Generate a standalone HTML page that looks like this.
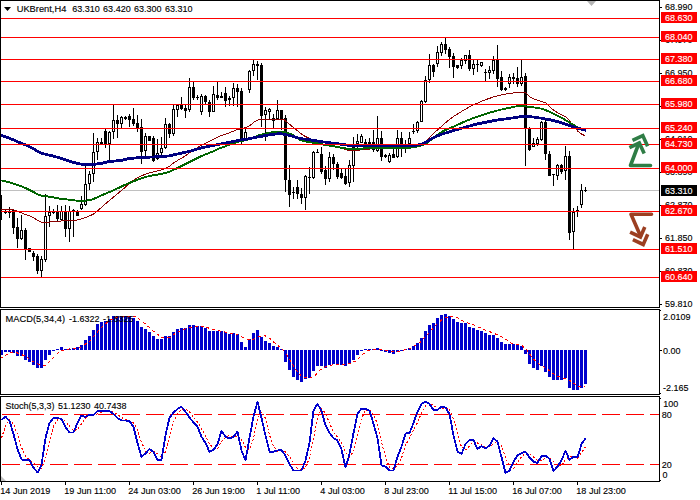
<!DOCTYPE html>
<html lang="en"><head><meta charset="utf-8"><title>UKBrent H4</title>
<style>html,body{margin:0;padding:0;background:#fff;}body{width:700px;height:500px;overflow:hidden;}svg{display:block;}text{font-family:"Liberation Sans", Arial, sans-serif;font-size:9px;fill:#000;stroke:#000;stroke-width:0.12px;}.w{fill:#fff;stroke:#fff;}</style></head><body>
<svg width="700" height="500" viewBox="0 0 700 500">
<rect x="0" y="0" width="700" height="500" fill="#fff"/>
<g shape-rendering="crispEdges">
<rect x="1" y="190" width="658" height="1" fill="#c0c0c0"/>
</g>
<g shape-rendering="crispEdges" fill="#000">
<rect x="1" y="195" width="1" height="25"/>
<rect x="0" y="195" width="2" height="25"/>
<rect x="5" y="210" width="1" height="4"/>
<rect x="4" y="211" width="3" height="2"/>
<rect x="9" y="207" width="1" height="11"/>
<rect x="8" y="211" width="3" height="2"/>
<rect x="13" y="209" width="1" height="25"/>
<rect x="12" y="210" width="3" height="18"/>
<rect x="17" y="218" width="1" height="30"/>
<rect x="16" y="227" width="3" height="12"/>
<rect x="21" y="215" width="1" height="25"/>
<rect x="20" y="230" width="3" height="9"/>
<rect x="21" y="231" width="1" height="7" fill="#fff"/>
<rect x="25" y="228" width="1" height="32"/>
<rect x="24" y="230" width="3" height="20"/>
<rect x="29" y="248" width="1" height="4"/>
<rect x="28" y="248" width="3" height="4"/>
<rect x="33" y="251" width="1" height="10"/>
<rect x="32" y="253" width="3" height="4"/>
<rect x="37" y="254" width="1" height="20"/>
<rect x="36" y="256" width="3" height="15"/>
<rect x="41" y="256" width="1" height="21"/>
<rect x="40" y="259" width="3" height="12"/>
<rect x="41" y="260" width="1" height="10" fill="#fff"/>
<rect x="45" y="194" width="1" height="68"/>
<rect x="44" y="216" width="3" height="44"/>
<rect x="45" y="217" width="1" height="42" fill="#fff"/>
<rect x="49" y="206" width="1" height="21"/>
<rect x="48" y="212" width="3" height="4"/>
<rect x="49" y="213" width="1" height="2" fill="#fff"/>
<rect x="53" y="209" width="1" height="5"/>
<rect x="52" y="211" width="3" height="2"/>
<rect x="57" y="205" width="1" height="17"/>
<rect x="56" y="211" width="3" height="8"/>
<rect x="61" y="206" width="1" height="14"/>
<rect x="60" y="211" width="3" height="9"/>
<rect x="61" y="212" width="1" height="7" fill="#fff"/>
<rect x="65" y="205" width="1" height="32"/>
<rect x="64" y="211" width="3" height="18"/>
<rect x="69" y="206" width="1" height="36"/>
<rect x="68" y="211" width="3" height="18"/>
<rect x="69" y="212" width="1" height="16" fill="#fff"/>
<rect x="73" y="209" width="1" height="28"/>
<rect x="72" y="210" width="3" height="1"/>
<rect x="77" y="210" width="1" height="6"/>
<rect x="76" y="212" width="3" height="4"/>
<rect x="81" y="196" width="1" height="14"/>
<rect x="80" y="204" width="3" height="5"/>
<rect x="81" y="205" width="1" height="3" fill="#fff"/>
<rect x="85" y="164" width="1" height="42"/>
<rect x="84" y="184" width="3" height="21"/>
<rect x="85" y="185" width="1" height="19" fill="#fff"/>
<rect x="89" y="171" width="1" height="19"/>
<rect x="88" y="174" width="3" height="10"/>
<rect x="89" y="175" width="1" height="8" fill="#fff"/>
<rect x="93" y="133" width="1" height="49"/>
<rect x="92" y="152" width="3" height="22"/>
<rect x="93" y="153" width="1" height="20" fill="#fff"/>
<rect x="97" y="138" width="1" height="22"/>
<rect x="96" y="142" width="3" height="10"/>
<rect x="97" y="143" width="1" height="8" fill="#fff"/>
<rect x="101" y="138" width="1" height="6"/>
<rect x="100" y="142" width="3" height="2"/>
<rect x="105" y="129" width="1" height="19"/>
<rect x="104" y="131" width="3" height="13"/>
<rect x="109" y="131" width="1" height="29"/>
<rect x="108" y="132" width="3" height="12"/>
<rect x="109" y="133" width="1" height="10" fill="#fff"/>
<rect x="113" y="105" width="1" height="34"/>
<rect x="112" y="120" width="3" height="12"/>
<rect x="113" y="121" width="1" height="10" fill="#fff"/>
<rect x="117" y="115" width="1" height="23"/>
<rect x="116" y="120" width="3" height="4"/>
<rect x="121" y="116" width="1" height="13"/>
<rect x="120" y="117" width="3" height="7"/>
<rect x="121" y="118" width="1" height="5" fill="#fff"/>
<rect x="125" y="116" width="1" height="4"/>
<rect x="124" y="117" width="3" height="2"/>
<rect x="129" y="114" width="1" height="13"/>
<rect x="128" y="116" width="3" height="4"/>
<rect x="133" y="108" width="1" height="18"/>
<rect x="132" y="119" width="3" height="5"/>
<rect x="137" y="115" width="1" height="17"/>
<rect x="136" y="123" width="3" height="5"/>
<rect x="141" y="119" width="1" height="45"/>
<rect x="140" y="127" width="3" height="25"/>
<rect x="145" y="133" width="1" height="23"/>
<rect x="144" y="136" width="3" height="15"/>
<rect x="145" y="137" width="1" height="13" fill="#fff"/>
<rect x="149" y="136" width="1" height="5"/>
<rect x="148" y="136" width="3" height="5"/>
<rect x="153" y="136" width="1" height="26"/>
<rect x="152" y="138" width="3" height="23"/>
<rect x="157" y="139" width="1" height="21"/>
<rect x="156" y="153" width="3" height="6"/>
<rect x="157" y="154" width="1" height="4" fill="#fff"/>
<rect x="161" y="137" width="1" height="18"/>
<rect x="160" y="148" width="3" height="5"/>
<rect x="161" y="149" width="1" height="3" fill="#fff"/>
<rect x="165" y="118" width="1" height="31"/>
<rect x="164" y="124" width="3" height="24"/>
<rect x="165" y="125" width="1" height="22" fill="#fff"/>
<rect x="169" y="123" width="1" height="15"/>
<rect x="168" y="124" width="3" height="10"/>
<rect x="173" y="105" width="1" height="31"/>
<rect x="172" y="109" width="3" height="25"/>
<rect x="173" y="110" width="1" height="23" fill="#fff"/>
<rect x="177" y="104" width="1" height="13"/>
<rect x="176" y="105" width="3" height="5"/>
<rect x="177" y="106" width="1" height="3" fill="#fff"/>
<rect x="181" y="97" width="1" height="13"/>
<rect x="180" y="105" width="3" height="4"/>
<rect x="185" y="105" width="1" height="13"/>
<rect x="184" y="108" width="3" height="3"/>
<rect x="189" y="78" width="1" height="34"/>
<rect x="188" y="87" width="3" height="23"/>
<rect x="189" y="88" width="1" height="21" fill="#fff"/>
<rect x="193" y="82" width="1" height="18"/>
<rect x="192" y="87" width="3" height="11"/>
<rect x="197" y="95" width="1" height="5"/>
<rect x="196" y="97" width="3" height="1"/>
<rect x="201" y="94" width="1" height="21"/>
<rect x="200" y="96" width="3" height="16"/>
<rect x="201" y="97" width="1" height="14" fill="#fff"/>
<rect x="205" y="95" width="1" height="9"/>
<rect x="204" y="96" width="3" height="6"/>
<rect x="209" y="100" width="1" height="17"/>
<rect x="208" y="102" width="3" height="10"/>
<rect x="213" y="86" width="1" height="26"/>
<rect x="212" y="94" width="3" height="18"/>
<rect x="213" y="95" width="1" height="16" fill="#fff"/>
<rect x="217" y="82" width="1" height="18"/>
<rect x="216" y="95" width="3" height="3"/>
<rect x="221" y="92" width="1" height="6"/>
<rect x="220" y="96" width="3" height="2"/>
<rect x="225" y="87" width="1" height="20"/>
<rect x="224" y="93" width="3" height="8"/>
<rect x="229" y="96" width="1" height="10"/>
<rect x="228" y="98" width="3" height="2"/>
<rect x="233" y="83" width="1" height="23"/>
<rect x="232" y="88" width="3" height="10"/>
<rect x="233" y="89" width="1" height="8" fill="#fff"/>
<rect x="237" y="84" width="1" height="23"/>
<rect x="236" y="88" width="3" height="4"/>
<rect x="241" y="88" width="1" height="56"/>
<rect x="240" y="91" width="3" height="48"/>
<rect x="245" y="129" width="1" height="10"/>
<rect x="244" y="132" width="3" height="7"/>
<rect x="245" y="133" width="1" height="5" fill="#fff"/>
<rect x="249" y="70" width="1" height="23"/>
<rect x="248" y="71" width="3" height="19"/>
<rect x="249" y="72" width="1" height="17" fill="#fff"/>
<rect x="253" y="60" width="1" height="16"/>
<rect x="252" y="64" width="3" height="7"/>
<rect x="253" y="65" width="1" height="5" fill="#fff"/>
<rect x="257" y="61" width="1" height="19"/>
<rect x="256" y="64" width="3" height="2"/>
<rect x="261" y="63" width="1" height="64"/>
<rect x="260" y="65" width="3" height="51"/>
<rect x="265" y="107" width="1" height="34"/>
<rect x="264" y="110" width="3" height="5"/>
<rect x="265" y="111" width="1" height="3" fill="#fff"/>
<rect x="269" y="108" width="1" height="12"/>
<rect x="268" y="109" width="3" height="3"/>
<rect x="269" y="110" width="1" height="1" fill="#fff"/>
<rect x="273" y="114" width="1" height="14"/>
<rect x="272" y="118" width="3" height="3"/>
<rect x="277" y="100" width="1" height="19"/>
<rect x="276" y="110" width="3" height="9"/>
<rect x="277" y="111" width="1" height="7" fill="#fff"/>
<rect x="281" y="110" width="1" height="20"/>
<rect x="280" y="110" width="3" height="9"/>
<rect x="285" y="115" width="1" height="77"/>
<rect x="284" y="118" width="3" height="62"/>
<rect x="289" y="165" width="1" height="42"/>
<rect x="288" y="180" width="3" height="15"/>
<rect x="293" y="187" width="1" height="12"/>
<rect x="292" y="192" width="3" height="1"/>
<rect x="297" y="180" width="1" height="19"/>
<rect x="296" y="187" width="3" height="7"/>
<rect x="301" y="188" width="1" height="16"/>
<rect x="300" y="194" width="3" height="4"/>
<rect x="305" y="175" width="1" height="35"/>
<rect x="304" y="176" width="3" height="22"/>
<rect x="305" y="177" width="1" height="20" fill="#fff"/>
<rect x="309" y="167" width="1" height="27"/>
<rect x="308" y="177" width="3" height="1"/>
<rect x="313" y="151" width="1" height="28"/>
<rect x="312" y="152" width="3" height="26"/>
<rect x="313" y="153" width="1" height="24" fill="#fff"/>
<rect x="317" y="149" width="1" height="4"/>
<rect x="316" y="152" width="3" height="1"/>
<rect x="321" y="147" width="1" height="27"/>
<rect x="320" y="154" width="3" height="18"/>
<rect x="325" y="166" width="1" height="19"/>
<rect x="324" y="170" width="3" height="9"/>
<rect x="329" y="152" width="1" height="30"/>
<rect x="328" y="157" width="3" height="22"/>
<rect x="329" y="158" width="1" height="20" fill="#fff"/>
<rect x="333" y="154" width="1" height="16"/>
<rect x="332" y="157" width="3" height="7"/>
<rect x="337" y="162" width="1" height="17"/>
<rect x="336" y="164" width="3" height="13"/>
<rect x="341" y="169" width="1" height="10"/>
<rect x="340" y="173" width="3" height="5"/>
<rect x="345" y="169" width="1" height="16"/>
<rect x="344" y="176" width="3" height="8"/>
<rect x="349" y="160" width="1" height="27"/>
<rect x="348" y="165" width="3" height="18"/>
<rect x="349" y="166" width="1" height="16" fill="#fff"/>
<rect x="353" y="137" width="1" height="45"/>
<rect x="352" y="147" width="3" height="19"/>
<rect x="353" y="148" width="1" height="17" fill="#fff"/>
<rect x="357" y="134" width="1" height="14"/>
<rect x="356" y="141" width="3" height="3"/>
<rect x="357" y="142" width="1" height="1" fill="#fff"/>
<rect x="361" y="134" width="1" height="9"/>
<rect x="360" y="136" width="3" height="7"/>
<rect x="361" y="137" width="1" height="5" fill="#fff"/>
<rect x="365" y="139" width="1" height="6"/>
<rect x="364" y="142" width="3" height="2"/>
<rect x="369" y="138" width="1" height="11"/>
<rect x="368" y="142" width="3" height="2"/>
<rect x="373" y="130" width="1" height="22"/>
<rect x="372" y="142" width="3" height="8"/>
<rect x="377" y="116" width="1" height="36"/>
<rect x="376" y="138" width="3" height="13"/>
<rect x="377" y="139" width="1" height="11" fill="#fff"/>
<rect x="381" y="131" width="1" height="30"/>
<rect x="380" y="138" width="3" height="19"/>
<rect x="385" y="154" width="1" height="4"/>
<rect x="384" y="155" width="3" height="2"/>
<rect x="389" y="153" width="1" height="10"/>
<rect x="388" y="155" width="3" height="7"/>
<rect x="389" y="156" width="1" height="5" fill="#fff"/>
<rect x="393" y="148" width="1" height="10"/>
<rect x="392" y="154" width="3" height="4"/>
<rect x="397" y="130" width="1" height="28"/>
<rect x="396" y="138" width="3" height="19"/>
<rect x="397" y="139" width="1" height="17" fill="#fff"/>
<rect x="401" y="132" width="1" height="25"/>
<rect x="400" y="138" width="3" height="11"/>
<rect x="405" y="140" width="1" height="13"/>
<rect x="404" y="144" width="3" height="1"/>
<rect x="409" y="132" width="1" height="16"/>
<rect x="408" y="138" width="3" height="6"/>
<rect x="409" y="139" width="1" height="4" fill="#fff"/>
<rect x="413" y="124" width="1" height="10"/>
<rect x="412" y="131" width="3" height="1"/>
<rect x="417" y="121" width="1" height="12"/>
<rect x="416" y="122" width="3" height="9"/>
<rect x="417" y="123" width="1" height="7" fill="#fff"/>
<rect x="421" y="100" width="1" height="22"/>
<rect x="420" y="101" width="3" height="21"/>
<rect x="421" y="102" width="1" height="19" fill="#fff"/>
<rect x="425" y="76" width="1" height="27"/>
<rect x="424" y="80" width="3" height="22"/>
<rect x="425" y="81" width="1" height="20" fill="#fff"/>
<rect x="429" y="54" width="1" height="29"/>
<rect x="428" y="65" width="3" height="15"/>
<rect x="429" y="66" width="1" height="13" fill="#fff"/>
<rect x="433" y="64" width="1" height="13"/>
<rect x="432" y="65" width="3" height="7"/>
<rect x="437" y="46" width="1" height="21"/>
<rect x="436" y="52" width="3" height="12"/>
<rect x="437" y="53" width="1" height="10" fill="#fff"/>
<rect x="441" y="42" width="1" height="14"/>
<rect x="440" y="44" width="3" height="9"/>
<rect x="441" y="45" width="1" height="7" fill="#fff"/>
<rect x="445" y="38" width="1" height="16"/>
<rect x="444" y="44" width="3" height="6"/>
<rect x="449" y="47" width="1" height="21"/>
<rect x="448" y="49" width="3" height="8"/>
<rect x="453" y="53" width="1" height="25"/>
<rect x="452" y="56" width="3" height="11"/>
<rect x="457" y="65" width="1" height="4"/>
<rect x="456" y="65" width="3" height="3"/>
<rect x="461" y="58" width="1" height="11"/>
<rect x="460" y="60" width="3" height="6"/>
<rect x="461" y="61" width="1" height="4" fill="#fff"/>
<rect x="465" y="55" width="1" height="9"/>
<rect x="464" y="55" width="3" height="6"/>
<rect x="465" y="56" width="1" height="4" fill="#fff"/>
<rect x="469" y="50" width="1" height="21"/>
<rect x="468" y="55" width="3" height="14"/>
<rect x="473" y="59" width="1" height="16"/>
<rect x="472" y="64" width="3" height="5"/>
<rect x="473" y="65" width="1" height="3" fill="#fff"/>
<rect x="477" y="60" width="1" height="12"/>
<rect x="476" y="64" width="3" height="1"/>
<rect x="481" y="62" width="1" height="5"/>
<rect x="480" y="62" width="3" height="4"/>
<rect x="481" y="63" width="1" height="2" fill="#fff"/>
<rect x="485" y="69" width="1" height="12"/>
<rect x="484" y="72" width="3" height="1"/>
<rect x="489" y="66" width="1" height="13"/>
<rect x="488" y="70" width="3" height="3"/>
<rect x="489" y="71" width="1" height="1" fill="#fff"/>
<rect x="493" y="56" width="1" height="18"/>
<rect x="492" y="60" width="3" height="11"/>
<rect x="493" y="61" width="1" height="9" fill="#fff"/>
<rect x="497" y="45" width="1" height="42"/>
<rect x="496" y="59" width="3" height="20"/>
<rect x="501" y="71" width="1" height="20"/>
<rect x="500" y="77" width="3" height="13"/>
<rect x="505" y="87" width="1" height="4"/>
<rect x="504" y="88" width="3" height="2"/>
<rect x="509" y="74" width="1" height="14"/>
<rect x="508" y="77" width="3" height="7"/>
<rect x="509" y="78" width="1" height="5" fill="#fff"/>
<rect x="513" y="73" width="1" height="11"/>
<rect x="512" y="77" width="3" height="2"/>
<rect x="517" y="67" width="1" height="20"/>
<rect x="516" y="78" width="3" height="6"/>
<rect x="521" y="60" width="1" height="26"/>
<rect x="520" y="77" width="3" height="7"/>
<rect x="521" y="78" width="1" height="5" fill="#fff"/>
<rect x="525" y="73" width="1" height="93"/>
<rect x="524" y="76" width="3" height="53"/>
<rect x="529" y="127" width="1" height="24"/>
<rect x="528" y="128" width="3" height="22"/>
<rect x="533" y="138" width="1" height="9"/>
<rect x="532" y="143" width="3" height="4"/>
<rect x="533" y="144" width="1" height="2" fill="#fff"/>
<rect x="537" y="137" width="1" height="9"/>
<rect x="536" y="139" width="3" height="5"/>
<rect x="537" y="140" width="1" height="3" fill="#fff"/>
<rect x="541" y="121" width="1" height="20"/>
<rect x="540" y="122" width="3" height="18"/>
<rect x="541" y="123" width="1" height="16" fill="#fff"/>
<rect x="545" y="120" width="1" height="40"/>
<rect x="544" y="122" width="3" height="32"/>
<rect x="549" y="151" width="1" height="25"/>
<rect x="548" y="154" width="3" height="22"/>
<rect x="553" y="174" width="1" height="12"/>
<rect x="552" y="174" width="3" height="1"/>
<rect x="557" y="164" width="1" height="16"/>
<rect x="556" y="165" width="3" height="11"/>
<rect x="557" y="166" width="1" height="9" fill="#fff"/>
<rect x="561" y="164" width="1" height="10"/>
<rect x="560" y="165" width="3" height="7"/>
<rect x="565" y="146" width="1" height="34"/>
<rect x="564" y="156" width="3" height="15"/>
<rect x="565" y="157" width="1" height="13" fill="#fff"/>
<rect x="569" y="151" width="1" height="89"/>
<rect x="568" y="156" width="3" height="77"/>
<rect x="573" y="208" width="1" height="41"/>
<rect x="572" y="212" width="3" height="20"/>
<rect x="573" y="213" width="1" height="18" fill="#fff"/>
<rect x="577" y="206" width="1" height="11"/>
<rect x="576" y="210" width="3" height="1"/>
<rect x="581" y="184" width="1" height="24"/>
<rect x="580" y="190" width="3" height="15"/>
<rect x="581" y="191" width="1" height="13" fill="#fff"/>
<rect x="585" y="187" width="1" height="5"/>
<rect x="584" y="190" width="3" height="1"/>
</g>
<clipPath id="cm"><rect x="1" y="1" width="658" height="306"/></clipPath>
<g clip-path="url(#cm)">
<polyline points="0.0,209.5 2.0,209.5 4.0,209.5 6.0,209.5 8.0,209.5 10.0,209.5 12.0,209.5 14.0,210.1 16.0,210.8 18.0,211.5 20.0,212.3 22.0,213.1 24.0,213.9 26.0,214.6 28.0,215.3 30.0,216.0 32.0,217.0 34.0,218.1 36.0,219.3 38.0,220.5 40.0,221.7 42.0,222.6 44.0,222.6 46.0,222.5 48.0,222.3 50.0,222.0 52.0,221.8 54.0,221.7 56.0,221.6 58.0,221.5 60.0,221.2 62.0,220.9 64.0,220.8 66.0,220.8 68.0,220.8 70.0,220.7 72.0,220.6 74.0,220.5 76.0,220.3 78.0,219.9 80.0,219.3 82.0,218.6 84.0,218.0 86.0,217.3 88.0,216.6 90.0,215.7 92.0,214.8 94.0,213.7 96.0,212.3 98.0,210.5 100.0,208.7 102.0,206.8 104.0,205.1 106.0,203.4 108.0,201.7 110.0,200.0 112.0,198.3 114.0,196.7 116.0,195.0 118.0,193.4 120.0,191.7 122.0,190.1 124.0,188.4 126.0,186.6 128.0,184.6 130.0,182.8 132.0,181.3 134.0,179.9 136.0,178.6 138.0,177.5 140.0,176.5 142.0,175.6 144.0,174.8 146.0,174.1 148.0,173.4 150.0,172.8 152.0,172.3 154.0,171.8 156.0,171.3 158.0,170.7 160.0,170.2 162.0,169.7 164.0,169.1 166.0,168.3 168.0,167.2 170.0,165.8 172.0,164.2 174.0,162.7 176.0,161.4 178.0,160.2 180.0,159.1 182.0,157.9 184.0,156.7 186.0,155.4 188.0,153.9 190.0,152.5 192.0,151.1 194.0,149.8 196.0,148.5 198.0,147.3 200.0,146.1 202.0,145.0 204.0,143.9 206.0,142.9 208.0,142.0 210.0,141.0 212.0,140.0 214.0,138.9 216.0,137.9 218.0,136.9 220.0,136.0 222.0,135.2 224.0,134.6 226.0,133.9 228.0,133.3 230.0,132.5 232.0,131.7 234.0,130.9 236.0,130.1 238.0,129.4 240.0,128.9 242.0,128.5 244.0,128.1 246.0,127.5 248.0,126.7 250.0,125.3 252.0,123.8 254.0,122.2 256.0,121.0 258.0,120.0 260.0,119.5 262.0,119.4 264.0,119.3 266.0,119.3 268.0,119.3 270.0,119.3 272.0,119.3 274.0,119.3 276.0,119.3 278.0,119.3 280.0,119.4 282.0,119.4 284.0,119.7 286.0,121.3 288.0,123.0 290.0,124.6 292.0,126.3 294.0,128.0 296.0,129.6 298.0,131.2 300.0,132.8 302.0,134.3 304.0,135.7 306.0,136.8 308.0,137.8 310.0,138.7 312.0,139.6 314.0,140.7 316.0,141.8 318.0,142.8 320.0,143.8 322.0,144.6 324.0,145.1 326.0,145.4 328.0,145.6 330.0,145.7 332.0,145.8 334.0,146.0 336.0,146.4 338.0,146.9 340.0,147.5 342.0,148.2 344.0,148.8 346.0,149.6 348.0,150.3 350.0,150.4 352.0,150.5 354.0,150.5 356.0,150.5 358.0,150.2 360.0,150.0 362.0,149.8 364.0,149.6 366.0,149.4 368.0,149.2 370.0,149.0 372.0,148.9 374.0,148.8 376.0,148.7 378.0,148.6 380.0,148.5 382.0,148.4 384.0,148.3 386.0,148.3 388.0,148.2 390.0,148.2 392.0,148.2 394.0,148.2 396.0,148.1 398.0,148.1 400.0,148.1 402.0,148.1 404.0,148.1 406.0,148.1 408.0,148.0 410.0,148.0 412.0,147.8 414.0,147.5 416.0,146.9 418.0,146.3 420.0,145.5 422.0,144.1 424.0,142.3 426.0,140.8 428.0,139.1 430.0,137.3 432.0,135.2 434.0,133.2 436.0,131.3 438.0,129.5 440.0,127.6 442.0,125.9 444.0,124.1 446.0,122.3 448.0,120.7 450.0,119.1 452.0,117.6 454.0,116.2 456.0,114.9 458.0,113.6 460.0,112.4 462.0,111.2 464.0,110.0 466.0,108.8 468.0,107.7 470.0,106.6 472.0,105.6 474.0,104.7 476.0,103.7 478.0,102.9 480.0,102.0 482.0,101.1 484.0,100.3 486.0,99.6 488.0,98.8 490.0,98.2 492.0,97.5 494.0,96.8 496.0,96.2 498.0,95.7 500.0,95.2 502.0,94.7 504.0,94.3 506.0,94.0 508.0,93.6 510.0,93.4 512.0,93.1 514.0,92.9 516.0,92.6 518.0,92.3 520.0,92.2 522.0,92.2 524.0,92.3 526.0,92.8 528.0,95.0 530.0,97.0 532.0,98.0 534.0,98.9 536.0,99.6 538.0,100.3 540.0,101.0 542.0,101.6 544.0,102.2 546.0,103.0 548.0,104.7 550.0,107.0 552.0,109.0 554.0,110.4 556.0,111.7 558.0,112.9 560.0,114.0 562.0,115.0 564.0,115.8 566.0,117.0 568.0,118.9 570.0,121.6 572.0,124.5 574.0,127.0 576.0,129.2 578.0,131.3 580.0,133.0 582.0,134.3 584.0,135.2 585.0,135.6" fill="none" stroke="#8b0000" stroke-width="1" stroke-linejoin="round" shape-rendering="crispEdges"/>
<polyline points="0.0,180.2 2.0,180.6 4.0,181.1 6.0,181.6 8.0,182.1 10.0,182.6 12.0,183.2 14.0,183.8 16.0,184.4 18.0,185.1 20.0,185.8 22.0,186.6 24.0,187.4 26.0,188.3 28.0,189.3 30.0,190.2 32.0,191.2 34.0,192.3 36.0,193.4 38.0,194.4 40.0,195.2 42.0,195.7 44.0,196.0 46.0,196.3 48.0,196.5 50.0,196.8 52.0,197.1 54.0,197.5 56.0,197.9 58.0,198.3 60.0,198.7 62.0,199.0 64.0,199.2 66.0,199.4 68.0,199.6 70.0,199.8 72.0,200.0 74.0,200.3 76.0,200.6 78.0,200.9 80.0,201.0 82.0,200.9 84.0,200.8 86.0,200.6 88.0,200.3 90.0,200.0 92.0,199.5 94.0,198.8 96.0,197.8 98.0,196.9 100.0,196.0 102.0,195.2 104.0,194.3 106.0,193.5 108.0,192.6 110.0,191.8 112.0,190.9 114.0,190.0 116.0,189.1 118.0,188.2 120.0,187.2 122.0,186.3 124.0,185.3 126.0,184.4 128.0,183.5 130.0,182.7 132.0,181.9 134.0,181.1 136.0,180.3 138.0,179.6 140.0,178.9 142.0,178.2 144.0,177.5 146.0,176.9 148.0,176.4 150.0,175.9 152.0,175.5 154.0,175.2 156.0,174.8 158.0,174.5 160.0,174.1 162.0,173.7 164.0,173.3 166.0,172.8 168.0,172.2 170.0,171.4 172.0,170.5 174.0,169.6 176.0,168.7 178.0,167.8 180.0,166.7 182.0,165.7 184.0,164.7 186.0,163.7 188.0,162.7 190.0,161.8 192.0,160.8 194.0,159.8 196.0,158.8 198.0,157.7 200.0,156.7 202.0,155.8 204.0,155.0 206.0,154.2 208.0,153.4 210.0,152.6 212.0,151.8 214.0,150.9 216.0,149.9 218.0,149.0 220.0,148.2 222.0,147.4 224.0,146.7 226.0,146.0 228.0,145.3 230.0,144.6 232.0,143.9 234.0,143.2 236.0,142.5 238.0,141.9 240.0,141.4 242.0,140.9 244.0,140.5 246.0,140.0 248.0,139.5 250.0,139.0 252.0,138.3 254.0,137.4 256.0,136.5 258.0,135.6 260.0,135.0 262.0,134.5 264.0,134.0 266.0,133.5 268.0,133.1 270.0,132.7 272.0,132.3 274.0,132.0 276.0,131.8 278.0,131.7 280.0,131.6 282.0,131.7 284.0,132.0 286.0,132.5 288.0,133.0 290.0,133.7 292.0,134.7 294.0,135.8 296.0,137.0 298.0,138.5 300.0,139.8 302.0,140.5 304.0,141.1 306.0,141.5 308.0,141.9 310.0,142.2 312.0,142.5 314.0,142.8 316.0,143.0 318.0,143.4 320.0,143.8 322.0,144.2 324.0,144.7 326.0,145.1 328.0,145.4 330.0,145.7 332.0,146.0 334.0,146.3 336.0,146.7 338.0,147.1 340.0,147.5 342.0,147.8 344.0,148.2 346.0,148.5 348.0,148.8 350.0,149.0 352.0,149.0 354.0,149.0 356.0,149.0 358.0,149.0 360.0,149.0 362.0,148.7 364.0,148.3 366.0,148.2 368.0,148.1 370.0,148.0 372.0,147.9 374.0,147.9 376.0,147.8 378.0,147.8 380.0,147.7 382.0,147.7 384.0,147.6 386.0,147.6 388.0,147.6 390.0,147.6 392.0,147.6 394.0,147.6 396.0,147.6 398.0,147.6 400.0,147.6 402.0,147.6 404.0,147.6 406.0,147.6 408.0,147.6 410.0,147.6 412.0,147.5 414.0,147.2 416.0,146.7 418.0,146.2 420.0,145.7 422.0,145.1 424.0,144.4 426.0,143.4 428.0,142.2 430.0,140.6 432.0,138.9 434.0,137.3 436.0,135.8 438.0,134.4 440.0,133.0 442.0,131.8 444.0,130.7 446.0,129.8 448.0,128.9 450.0,128.0 452.0,127.2 454.0,126.4 456.0,125.6 458.0,124.6 460.0,123.7 462.0,122.7 464.0,121.8 466.0,121.0 468.0,120.2 470.0,119.4 472.0,118.6 474.0,117.9 476.0,117.2 478.0,116.5 480.0,115.8 482.0,115.1 484.0,114.5 486.0,113.9 488.0,113.2 490.0,112.6 492.0,112.0 494.0,111.4 496.0,110.9 498.0,110.4 500.0,109.9 502.0,109.4 504.0,109.0 506.0,108.5 508.0,108.1 510.0,107.7 512.0,107.3 514.0,106.9 516.0,106.4 518.0,106.0 520.0,105.8 522.0,105.9 524.0,106.1 526.0,106.4 528.0,106.7 530.0,107.0 532.0,107.2 534.0,107.5 536.0,107.7 538.0,108.0 540.0,108.4 542.0,108.9 544.0,109.6 546.0,110.3 548.0,111.2 550.0,112.0 552.0,112.9 554.0,113.9 556.0,114.9 558.0,115.9 560.0,117.0 562.0,118.1 564.0,119.2 566.0,120.4 568.0,121.5 570.0,122.7 572.0,124.0 574.0,125.3 576.0,126.7 578.0,127.9 580.0,128.8 582.0,129.5 584.0,130.1 586.0,130.6" fill="none" stroke="#006400" stroke-width="1.9" stroke-linejoin="round" shape-rendering="crispEdges"/>
<polyline points="0.0,135.0 2.0,135.6 4.0,136.3 6.0,137.0 8.0,137.7 10.0,138.5 12.0,139.3 14.0,140.1 16.0,141.0 18.0,141.9 20.0,142.7 22.0,143.6 24.0,144.4 26.0,145.2 28.0,146.0 30.0,146.9 32.0,147.9 34.0,149.1 36.0,150.4 38.0,151.6 40.0,152.6 42.0,153.3 44.0,153.9 46.0,154.4 48.0,154.9 50.0,155.3 52.0,155.8 54.0,156.4 56.0,156.9 58.0,157.4 60.0,158.0 62.0,158.6 64.0,159.3 66.0,160.0 68.0,160.7 70.0,161.4 72.0,162.0 74.0,162.5 76.0,163.1 78.0,163.6 80.0,163.9 82.0,164.2 84.0,164.4 86.0,164.5 88.0,164.6 90.0,164.6 92.0,164.5 94.0,164.3 96.0,164.1 98.0,163.8 100.0,163.5 102.0,163.2 104.0,162.7 106.0,162.3 108.0,161.8 110.0,161.5 112.0,161.3 114.0,161.1 116.0,160.9 118.0,160.7 120.0,160.5 122.0,160.2 124.0,159.7 126.0,159.2 128.0,158.8 130.0,158.5 132.0,158.3 134.0,158.1 136.0,157.9 138.0,157.8 140.0,157.7 142.0,157.5 144.0,157.4 146.0,157.3 148.0,157.2 150.0,157.1 152.0,157.0 154.0,156.9 156.0,156.8 158.0,156.8 160.0,156.7 162.0,156.6 164.0,156.5 166.0,156.3 168.0,156.0 170.0,155.7 172.0,155.2 174.0,154.7 176.0,154.3 178.0,153.9 180.0,153.4 182.0,153.0 184.0,152.5 186.0,152.1 188.0,151.6 190.0,151.1 192.0,150.7 194.0,150.1 196.0,149.5 198.0,148.9 200.0,148.2 202.0,147.7 204.0,147.3 206.0,146.9 208.0,146.5 210.0,146.1 212.0,145.7 214.0,145.3 216.0,144.9 218.0,144.5 220.0,144.1 222.0,143.7 224.0,143.3 226.0,142.9 228.0,142.5 230.0,142.1 232.0,141.7 234.0,141.3 236.0,140.9 238.0,140.5 240.0,140.1 242.0,139.8 244.0,139.5 246.0,139.2 248.0,138.9 250.0,138.5 252.0,138.1 254.0,137.7 256.0,137.3 258.0,136.9 260.0,136.5 262.0,136.2 264.0,135.8 266.0,135.4 268.0,135.1 270.0,134.7 272.0,134.4 274.0,134.2 276.0,134.0 278.0,133.8 280.0,133.8 282.0,133.9 284.0,134.2 286.0,134.7 288.0,135.1 290.0,135.6 292.0,136.1 294.0,136.7 296.0,137.4 298.0,137.9 300.0,138.4 302.0,138.7 304.0,139.0 306.0,139.2 308.0,139.5 310.0,139.8 312.0,140.2 314.0,140.5 316.0,140.8 318.0,141.1 320.0,141.4 322.0,141.7 324.0,142.0 326.0,142.2 328.0,142.5 330.0,142.8 332.0,143.0 334.0,143.3 336.0,143.6 338.0,143.8 340.0,144.1 342.0,144.4 344.0,144.6 346.0,145.0 348.0,145.2 350.0,145.5 352.0,145.5 354.0,145.6 356.0,145.6 358.0,145.6 360.0,145.6 362.0,145.6 364.0,145.6 366.0,145.6 368.0,145.6 370.0,145.6 372.0,145.6 374.0,145.6 376.0,145.6 378.0,145.6 380.0,145.6 382.0,145.6 384.0,145.6 386.0,145.6 388.0,145.6 390.0,145.6 392.0,145.6 394.0,145.6 396.0,145.6 398.0,145.6 400.0,145.6 402.0,145.6 404.0,145.6 406.0,145.6 408.0,145.6 410.0,145.6 412.0,145.6 414.0,145.4 416.0,145.2 418.0,144.9 420.0,144.6 422.0,144.0 424.0,143.0 426.0,141.9 428.0,140.9 430.0,139.7 432.0,138.5 434.0,137.4 436.0,136.5 438.0,135.7 440.0,134.9 442.0,134.2 444.0,133.5 446.0,132.9 448.0,132.3 450.0,131.7 452.0,131.1 454.0,130.5 456.0,129.9 458.0,129.3 460.0,128.7 462.0,128.2 464.0,127.6 466.0,127.0 468.0,126.5 470.0,125.9 472.0,125.3 474.0,124.8 476.0,124.2 478.0,123.8 480.0,123.4 482.0,123.0 484.0,122.6 486.0,122.2 488.0,121.8 490.0,121.4 492.0,121.0 494.0,120.6 496.0,120.2 498.0,119.9 500.0,119.6 502.0,119.4 504.0,119.1 506.0,118.9 508.0,118.6 510.0,118.3 512.0,118.0 514.0,117.7 516.0,117.4 518.0,117.1 520.0,116.8 522.0,116.5 524.0,116.4 526.0,116.4 528.0,116.5 530.0,116.7 532.0,116.9 534.0,117.1 536.0,117.4 538.0,117.7 540.0,118.0 542.0,118.3 544.0,118.7 546.0,119.0 548.0,119.4 550.0,119.8 552.0,120.2 554.0,120.8 556.0,121.3 558.0,121.8 560.0,122.4 562.0,123.0 564.0,123.6 566.0,124.3 568.0,125.0 570.0,125.7 572.0,126.4 574.0,127.0 576.0,127.6 578.0,128.2 580.0,128.8 582.0,129.3 584.0,129.9 586.0,130.4" fill="none" stroke="#000080" stroke-width="2.8" stroke-linejoin="round" shape-rendering="crispEdges"/>
</g>
<g shape-rendering="crispEdges">
<rect x="1" y="18" width="658" height="1" fill="#ff0000"/>
<rect x="1" y="37" width="658" height="1" fill="#ff0000"/>
<rect x="1" y="59" width="658" height="1" fill="#ff0000"/>
<rect x="1" y="81" width="658" height="1" fill="#ff0000"/>
<rect x="1" y="104" width="658" height="1" fill="#ff0000"/>
<rect x="1" y="128" width="658" height="1" fill="#ff0000"/>
<rect x="1" y="144" width="658" height="1" fill="#ff0000"/>
<rect x="1" y="168" width="658" height="1" fill="#ff0000"/>
<rect x="1" y="211" width="658" height="1" fill="#ff0000"/>
<rect x="1" y="249" width="658" height="1" fill="#ff0000"/>
<rect x="1" y="277" width="658" height="1" fill="#ff0000"/>
</g>
<g fill="none" stroke="#2f7d46" stroke-width="3.6" stroke-linecap="round" stroke-linejoin="miter">
<path d="M650.5 165.5 L630.5 165.5 L638.8 143.5" stroke-linejoin="round"/>
<path d="M629.4 147.6 L639.3 143 L644.2 153.4" stroke-linecap="butt"/>
<path d="M632.5 140.4 L642.8 135.6 L647.6 146.2" stroke-linecap="butt"/>
</g>
<g fill="none" stroke="#9c3f22" stroke-width="3.6" stroke-linecap="round" stroke-linejoin="miter">
<path d="M651.5 214.2 L631 214.2 L640.5 236" stroke-linejoin="round"/>
<path d="M630.1 232.2 L640.4 237 L644.8 227" stroke-linecap="butt"/>
<path d="M632.9 239.7 L643.2 244.5 L647.7 234.3" stroke-linecap="butt"/>
</g>
<polygon points="587,1 596,1 591.5,6" fill="#b4b4b4"/>
<g shape-rendering="crispEdges" fill="#000">
<rect x="0" y="0" width="660" height="1" fill="#000"/>
<rect x="0" y="0" width="1" height="482" fill="#000"/>
<rect x="659" y="0" width="1" height="482" fill="#000"/>
<rect x="0" y="307" width="660" height="1" fill="#000"/>
<rect x="0" y="309" width="660" height="1" fill="#000"/>
<rect x="0" y="394" width="660" height="1" fill="#000"/>
<rect x="0" y="396" width="660" height="1" fill="#000"/>
<rect x="0" y="481" width="660" height="1" fill="#000"/>
<rect x="0" y="308" width="660" height="1" fill="#fff"/>
<rect x="0" y="395" width="660" height="1" fill="#fff"/>
<rect x="660" y="7" width="2" height="1" fill="#000"/>
<rect x="660" y="40" width="2" height="1" fill="#000"/>
<rect x="660" y="73" width="2" height="1" fill="#000"/>
<rect x="660" y="106" width="2" height="1" fill="#000"/>
<rect x="660" y="139" width="2" height="1" fill="#000"/>
<rect x="660" y="172" width="2" height="1" fill="#000"/>
<rect x="660" y="205" width="2" height="1" fill="#000"/>
<rect x="660" y="238" width="2" height="1" fill="#000"/>
<rect x="660" y="271" width="2" height="1" fill="#000"/>
<rect x="660" y="304" width="2" height="1" fill="#000"/>
<rect x="660" y="350" width="2" height="1" fill="#000"/>
<rect x="660" y="310" width="1" height="1" fill="#000"/>
<rect x="660" y="393" width="1" height="1" fill="#000"/>
<rect x="660" y="398" width="1" height="1" fill="#000"/>
<rect x="660" y="480" width="1" height="1" fill="#000"/>
<rect x="1" y="482" width="1" height="3" fill="#000"/>
<rect x="65" y="482" width="1" height="3" fill="#000"/>
<rect x="129" y="482" width="1" height="3" fill="#000"/>
<rect x="193" y="482" width="1" height="3" fill="#000"/>
<rect x="257" y="482" width="1" height="3" fill="#000"/>
<rect x="321" y="482" width="1" height="3" fill="#000"/>
<rect x="385" y="482" width="1" height="3" fill="#000"/>
<rect x="449" y="482" width="1" height="3" fill="#000"/>
<rect x="513" y="482" width="1" height="3" fill="#000"/>
<rect x="577" y="482" width="1" height="3" fill="#000"/>
</g>
<g shape-rendering="crispEdges" fill="#0000cd">
<rect x="0" y="350" width="3" height="5"/>
<rect x="4" y="350" width="3" height="2"/>
<rect x="8" y="350" width="3" height="2"/>
<rect x="12" y="350" width="3" height="3"/>
<rect x="16" y="350" width="3" height="6"/>
<rect x="20" y="350" width="3" height="6"/>
<rect x="24" y="350" width="3" height="10"/>
<rect x="28" y="350" width="3" height="12"/>
<rect x="32" y="350" width="3" height="15"/>
<rect x="36" y="350" width="3" height="18"/>
<rect x="40" y="350" width="3" height="18"/>
<rect x="44" y="350" width="3" height="10"/>
<rect x="48" y="350" width="3" height="5"/>
<rect x="52" y="350" width="3" height="1"/>
<rect x="56" y="349" width="3" height="1"/>
<rect x="60" y="347" width="3" height="3"/>
<rect x="64" y="349" width="3" height="1"/>
<rect x="68" y="349" width="3" height="1"/>
<rect x="72" y="348" width="3" height="2"/>
<rect x="76" y="347" width="3" height="3"/>
<rect x="80" y="345" width="3" height="5"/>
<rect x="84" y="340" width="3" height="10"/>
<rect x="88" y="336" width="3" height="14"/>
<rect x="92" y="330" width="3" height="20"/>
<rect x="96" y="324" width="3" height="26"/>
<rect x="100" y="322" width="3" height="28"/>
<rect x="104" y="321" width="3" height="29"/>
<rect x="108" y="319" width="3" height="31"/>
<rect x="112" y="316" width="3" height="34"/>
<rect x="116" y="316" width="3" height="34"/>
<rect x="120" y="316" width="3" height="34"/>
<rect x="124" y="316" width="3" height="34"/>
<rect x="128" y="316" width="3" height="34"/>
<rect x="132" y="318" width="3" height="32"/>
<rect x="136" y="321" width="3" height="29"/>
<rect x="140" y="327" width="3" height="23"/>
<rect x="144" y="329" width="3" height="21"/>
<rect x="148" y="332" width="3" height="18"/>
<rect x="152" y="336" width="3" height="14"/>
<rect x="156" y="339" width="3" height="11"/>
<rect x="160" y="339" width="3" height="11"/>
<rect x="164" y="336" width="3" height="14"/>
<rect x="168" y="336" width="3" height="14"/>
<rect x="172" y="332" width="3" height="18"/>
<rect x="176" y="329" width="3" height="21"/>
<rect x="180" y="328" width="3" height="22"/>
<rect x="184" y="328" width="3" height="22"/>
<rect x="188" y="325" width="3" height="25"/>
<rect x="192" y="325" width="3" height="25"/>
<rect x="196" y="326" width="3" height="24"/>
<rect x="200" y="326" width="3" height="24"/>
<rect x="204" y="328" width="3" height="22"/>
<rect x="208" y="331" width="3" height="19"/>
<rect x="212" y="331" width="3" height="19"/>
<rect x="216" y="331" width="3" height="19"/>
<rect x="220" y="331" width="3" height="19"/>
<rect x="224" y="332" width="3" height="18"/>
<rect x="228" y="334" width="3" height="16"/>
<rect x="232" y="333" width="3" height="17"/>
<rect x="236" y="334" width="3" height="16"/>
<rect x="240" y="342" width="3" height="8"/>
<rect x="244" y="347" width="3" height="3"/>
<rect x="248" y="339" width="3" height="11"/>
<rect x="252" y="333" width="3" height="17"/>
<rect x="256" y="330" width="3" height="20"/>
<rect x="260" y="337" width="3" height="13"/>
<rect x="264" y="341" width="3" height="9"/>
<rect x="268" y="343" width="3" height="7"/>
<rect x="272" y="346" width="3" height="4"/>
<rect x="276" y="347" width="3" height="3"/>
<rect x="280" y="349" width="3" height="1"/>
<rect x="284" y="350" width="3" height="12"/>
<rect x="288" y="350" width="3" height="20"/>
<rect x="292" y="350" width="3" height="27"/>
<rect x="296" y="350" width="3" height="30"/>
<rect x="300" y="350" width="3" height="32"/>
<rect x="304" y="350" width="3" height="29"/>
<rect x="308" y="350" width="3" height="28"/>
<rect x="312" y="350" width="3" height="21"/>
<rect x="316" y="350" width="3" height="16"/>
<rect x="320" y="350" width="3" height="16"/>
<rect x="324" y="350" width="3" height="18"/>
<rect x="328" y="350" width="3" height="15"/>
<rect x="332" y="350" width="3" height="14"/>
<rect x="336" y="350" width="3" height="15"/>
<rect x="340" y="350" width="3" height="15"/>
<rect x="344" y="350" width="3" height="16"/>
<rect x="348" y="350" width="3" height="14"/>
<rect x="352" y="350" width="3" height="10"/>
<rect x="356" y="350" width="3" height="5"/>
<rect x="360" y="350" width="3" height="1"/>
<rect x="364" y="349" width="3" height="1"/>
<rect x="368" y="349" width="3" height="1"/>
<rect x="372" y="349" width="3" height="1"/>
<rect x="376" y="348" width="3" height="2"/>
<rect x="380" y="350" width="3" height="1"/>
<rect x="384" y="350" width="3" height="2"/>
<rect x="388" y="350" width="3" height="3"/>
<rect x="392" y="350" width="3" height="4"/>
<rect x="396" y="350" width="3" height="2"/>
<rect x="400" y="350" width="3" height="1"/>
<rect x="404" y="349" width="3" height="1"/>
<rect x="408" y="348" width="3" height="2"/>
<rect x="412" y="346" width="3" height="4"/>
<rect x="416" y="343" width="3" height="7"/>
<rect x="420" y="338" width="3" height="12"/>
<rect x="424" y="331" width="3" height="19"/>
<rect x="428" y="325" width="3" height="25"/>
<rect x="432" y="323" width="3" height="27"/>
<rect x="436" y="318" width="3" height="32"/>
<rect x="440" y="315" width="3" height="35"/>
<rect x="444" y="314" width="3" height="36"/>
<rect x="448" y="316" width="3" height="34"/>
<rect x="452" y="319" width="3" height="31"/>
<rect x="456" y="322" width="3" height="28"/>
<rect x="460" y="323" width="3" height="27"/>
<rect x="464" y="323" width="3" height="27"/>
<rect x="468" y="327" width="3" height="23"/>
<rect x="472" y="328" width="3" height="22"/>
<rect x="476" y="330" width="3" height="20"/>
<rect x="480" y="331" width="3" height="19"/>
<rect x="484" y="333" width="3" height="17"/>
<rect x="488" y="335" width="3" height="15"/>
<rect x="492" y="335" width="3" height="15"/>
<rect x="496" y="338" width="3" height="12"/>
<rect x="500" y="342" width="3" height="8"/>
<rect x="504" y="344" width="3" height="6"/>
<rect x="508" y="344" width="3" height="6"/>
<rect x="512" y="344" width="3" height="6"/>
<rect x="516" y="345" width="3" height="5"/>
<rect x="520" y="346" width="3" height="4"/>
<rect x="524" y="350" width="3" height="4"/>
<rect x="528" y="350" width="3" height="14"/>
<rect x="532" y="350" width="3" height="18"/>
<rect x="536" y="350" width="3" height="20"/>
<rect x="540" y="350" width="3" height="16"/>
<rect x="544" y="350" width="3" height="22"/>
<rect x="548" y="350" width="3" height="27"/>
<rect x="552" y="350" width="3" height="30"/>
<rect x="556" y="350" width="3" height="30"/>
<rect x="560" y="350" width="3" height="30"/>
<rect x="564" y="350" width="3" height="28"/>
<rect x="568" y="350" width="3" height="38"/>
<rect x="572" y="350" width="3" height="40"/>
<rect x="576" y="350" width="3" height="40"/>
<rect x="580" y="350" width="3" height="38"/>
<rect x="584" y="350" width="3" height="34"/>
</g>
<polyline points="0.0,358.7 10.0,352.5 15.0,352.0 25.0,356.0 32.0,361.0 40.0,365.0 46.0,365.0 52.0,358.7 60.0,351.0 70.0,348.7 80.0,347.5 90.0,341.0 100.0,328.7 110.0,320.0 120.0,316.0 135.0,316.0 145.0,323.7 155.0,332.5 162.0,337.5 170.0,337.5 175.0,333.7 182.0,330.0 192.0,327.0 202.0,326.0 215.0,330.0 225.0,332.0 237.0,334.5 245.0,338.7 252.0,340.0 257.0,337.0 264.0,335.0 270.0,338.7 277.0,345.0 282.0,348.7 287.0,355.0 295.0,368.7 302.0,377.0 310.0,378.0 315.0,375.5 320.0,370.0 327.0,366.0 335.0,364.5 347.0,364.5 356.0,361.0 362.0,355.0 367.0,351.0 372.0,349.5 380.0,349.5 390.0,351.0 400.0,351.0 410.0,348.7 420.0,342.5 427.0,335.0 435.0,326.0 442.0,319.5 450.0,316.0 457.0,317.5 465.0,322.0 475.0,325.5 485.0,330.0 495.0,333.7 505.0,338.7 512.0,343.7 522.0,345.5 527.0,350.0 532.0,357.5 540.0,365.0 547.0,368.7 555.0,375.0 562.0,378.0 567.0,378.0 572.0,382.5 580.0,387.0 585.0,386.0" fill="none" stroke="#ff0000" stroke-width="1" stroke-linejoin="round" stroke-dasharray="3 3" shape-rendering="crispEdges"/>
<rect x="0" y="310" width="1" height="84" fill="#000"/>
<g shape-rendering="crispEdges">
<line x1="2" y1="414.5" x2="659" y2="414.5" stroke="#ff0000" stroke-width="1" stroke-dasharray="18 6"/>
<line x1="2" y1="464.5" x2="659" y2="464.5" stroke="#ff0000" stroke-width="1" stroke-dasharray="18 6"/>
</g>
<polyline points="1.5,438.0 5.5,426.0 9.5,419.2 13.5,423.9 17.5,434.7 21.5,447.5 25.5,456.2 29.5,459.8 33.5,462.5 37.5,466.7 41.5,468.3 45.5,458.5 49.5,442.0 53.5,426.3 57.5,419.7 61.5,418.3 65.5,421.3 69.5,426.2 73.5,430.7 77.5,429.3 81.5,423.7 85.5,418.5 89.5,415.8 93.5,415.7 97.5,413.7 101.5,412.3 105.5,411.0 109.5,411.0 113.5,412.0 117.5,414.3 121.5,417.5 125.5,419.7 129.5,420.7 133.5,422.8 137.5,430.3 141.5,442.2 145.5,451.1 149.5,453.1 153.5,451.5 157.5,453.7 161.5,457.3 165.5,451.7 169.5,437.7 173.5,421.8 177.5,413.2 181.5,409.4 185.5,409.1 189.5,412.0 193.5,417.2 197.5,422.2 201.5,428.6 205.5,435.5 209.5,443.8 213.5,448.2 217.5,448.6 221.5,441.7 225.5,437.2 229.5,435.4 233.5,437.3 237.5,435.6 241.5,439.6 245.5,447.6 249.5,449.7 253.5,438.4 257.5,418.8 261.5,412.1 265.5,418.4 269.5,435.1 273.5,446.3 277.5,451.3 281.5,450.7 285.5,452.0 289.5,456.5 293.5,463.3 297.5,468.3 301.5,470.5 305.5,467.2 309.5,458.0 313.5,438.0 317.5,419.2 321.5,408.3 325.5,413.3 329.5,423.0 333.5,432.2 337.5,437.2 341.5,442.7 345.5,452.5 349.5,457.0 353.5,451.5 357.5,433.7 361.5,418.5 365.5,410.5 369.5,409.3 373.5,414.5 377.5,424.2 381.5,442.5 385.5,456.7 389.5,467.6 393.5,469.2 397.5,465.9 401.5,458.0 405.5,445.6 409.5,437.7 413.5,429.8 417.5,422.6 421.5,412.9 425.5,405.8 429.5,403.2 433.5,405.2 437.5,408.0 441.5,408.9 445.5,408.1 449.5,409.4 453.5,419.0 457.5,433.7 461.5,447.1 465.5,449.9 469.5,446.0 473.5,441.3 477.5,443.0 481.5,445.0 485.5,447.8 489.5,446.7 493.5,444.0 497.5,441.7 501.5,445.6 505.5,457.2 509.5,466.9 513.5,468.5 517.5,462.6 521.5,456.7 525.5,453.4 529.5,454.1 533.5,457.0 537.5,460.7 541.5,460.2 545.5,458.2 549.5,456.8 553.5,461.8 557.5,465.6 561.5,466.1 565.5,459.2 569.5,457.0 573.5,455.7 577.5,458.1 581.5,452.7 585.5,446.7" fill="none" stroke="#ff0000" stroke-width="1" stroke-linejoin="round" stroke-dasharray="2 2" shape-rendering="crispEdges"/>
<polyline points="1.5,420.0 5.5,416.7 9.5,421.0 13.5,434.0 17.5,449.0 21.5,459.5 25.5,460.0 29.5,460.0 33.5,467.5 37.5,472.5 41.5,465.0 45.5,438.0 49.5,423.0 53.5,418.0 57.5,418.0 61.5,419.0 65.5,427.0 69.5,432.5 73.5,432.5 77.5,423.0 81.5,415.5 85.5,417.0 89.5,415.0 93.5,415.0 97.5,411.0 101.5,411.0 105.5,411.0 109.5,411.0 113.5,414.0 117.5,418.0 121.5,420.5 125.5,420.5 129.5,421.0 133.5,427.0 137.5,443.0 141.5,456.7 145.5,453.5 149.5,449.0 153.5,452.0 157.5,460.0 161.5,460.0 165.5,435.0 169.5,418.0 173.5,412.5 177.5,409.0 181.5,406.7 185.5,411.7 189.5,417.5 193.5,422.5 197.5,426.7 201.5,436.7 205.5,443.0 209.5,451.7 213.5,450.0 217.5,444.0 221.5,431.0 225.5,436.7 229.5,438.5 233.5,436.7 237.5,431.7 241.5,450.5 245.5,460.5 249.5,438.0 253.5,416.7 257.5,401.7 261.5,418.0 265.5,435.5 269.5,451.7 273.5,451.7 277.5,450.5 281.5,450.0 285.5,455.5 289.5,464.0 293.5,470.5 297.5,470.5 301.5,470.5 305.5,460.5 309.5,443.0 313.5,410.5 317.5,404.0 321.5,410.5 325.5,425.5 329.5,433.0 333.5,438.0 337.5,440.5 341.5,449.5 345.5,467.5 349.5,454.0 353.5,433.0 357.5,414.0 361.5,408.5 365.5,409.0 369.5,410.5 373.5,424.0 377.5,438.0 381.5,465.5 385.5,466.7 389.5,470.5 393.5,470.5 397.5,456.7 401.5,446.7 405.5,433.5 409.5,433.0 413.5,423.0 417.5,411.7 421.5,404.0 425.5,401.7 429.5,404.0 433.5,410.0 437.5,410.0 441.5,406.7 445.5,407.5 449.5,414.0 453.5,435.5 457.5,451.7 461.5,454.0 465.5,444.0 469.5,440.0 473.5,440.0 477.5,449.0 481.5,446.0 485.5,448.5 489.5,445.5 493.5,438.0 497.5,441.7 501.5,457.0 505.5,473.0 509.5,470.7 513.5,461.7 517.5,455.5 521.5,453.0 525.5,451.7 529.5,457.5 533.5,461.7 537.5,463.0 541.5,456.0 545.5,455.5 549.5,459.0 553.5,471.0 557.5,466.7 561.5,460.5 565.5,450.5 569.5,460.0 573.5,456.7 577.5,457.5 581.5,444.0 585.5,438.5" fill="none" stroke="#0000cd" stroke-width="1.8" stroke-linejoin="round" shape-rendering="crispEdges"/>
<polygon points="1,476 1,481 6,481" fill="#c0c0c0"/>
<text transform="translate(665 10.1) scale(1 1.06)" textLength="27.4" lengthAdjust="spacingAndGlyphs">68.990</text>
<text transform="translate(665 43.1) scale(1 1.06)" textLength="27.4" lengthAdjust="spacingAndGlyphs">67.970</text>
<text transform="translate(665 76.1) scale(1 1.06)" textLength="27.4" lengthAdjust="spacingAndGlyphs">66.950</text>
<text transform="translate(665 109.1) scale(1 1.06)" textLength="27.4" lengthAdjust="spacingAndGlyphs">65.930</text>
<text transform="translate(665 142.1) scale(1 1.06)" textLength="27.4" lengthAdjust="spacingAndGlyphs">64.910</text>
<text transform="translate(665 175.1) scale(1 1.06)" textLength="27.4" lengthAdjust="spacingAndGlyphs">63.890</text>
<text transform="translate(665 208.1) scale(1 1.06)" textLength="27.4" lengthAdjust="spacingAndGlyphs">62.870</text>
<text transform="translate(665 241.1) scale(1 1.06)" textLength="27.4" lengthAdjust="spacingAndGlyphs">61.850</text>
<text transform="translate(665 274.1) scale(1 1.06)" textLength="27.4" lengthAdjust="spacingAndGlyphs">60.830</text>
<text transform="translate(665 307.1) scale(1 1.06)" textLength="27.4" lengthAdjust="spacingAndGlyphs">59.810</text>
<rect x="661" y="12" width="36" height="11" fill="#ff0000" shape-rendering="crispEdges"/>
<text transform="translate(665 20.7) scale(1 1.06)" class="w" textLength="27.4" lengthAdjust="spacingAndGlyphs">68.630</text>
<rect x="661" y="31" width="36" height="11" fill="#ff0000" shape-rendering="crispEdges"/>
<text transform="translate(665 39.7) scale(1 1.06)" class="w" textLength="27.4" lengthAdjust="spacingAndGlyphs">68.040</text>
<rect x="661" y="53" width="36" height="11" fill="#ff0000" shape-rendering="crispEdges"/>
<text transform="translate(665 61.7) scale(1 1.06)" class="w" textLength="27.4" lengthAdjust="spacingAndGlyphs">67.380</text>
<rect x="661" y="75" width="36" height="11" fill="#ff0000" shape-rendering="crispEdges"/>
<text transform="translate(665 83.7) scale(1 1.06)" class="w" textLength="27.4" lengthAdjust="spacingAndGlyphs">66.680</text>
<rect x="661" y="98" width="36" height="11" fill="#ff0000" shape-rendering="crispEdges"/>
<text transform="translate(665 106.7) scale(1 1.06)" class="w" textLength="27.4" lengthAdjust="spacingAndGlyphs">65.980</text>
<rect x="661" y="122" width="36" height="11" fill="#ff0000" shape-rendering="crispEdges"/>
<text transform="translate(665 130.7) scale(1 1.06)" class="w" textLength="27.4" lengthAdjust="spacingAndGlyphs">65.240</text>
<rect x="661" y="138" width="36" height="11" fill="#ff0000" shape-rendering="crispEdges"/>
<text transform="translate(665 146.7) scale(1 1.06)" class="w" textLength="27.4" lengthAdjust="spacingAndGlyphs">64.730</text>
<rect x="661" y="162" width="36" height="11" fill="#ff0000" shape-rendering="crispEdges"/>
<text transform="translate(665 170.7) scale(1 1.06)" class="w" textLength="27.4" lengthAdjust="spacingAndGlyphs">64.000</text>
<rect x="661" y="205" width="36" height="11" fill="#ff0000" shape-rendering="crispEdges"/>
<text transform="translate(665 213.7) scale(1 1.06)" class="w" textLength="27.4" lengthAdjust="spacingAndGlyphs">62.670</text>
<rect x="661" y="243" width="36" height="11" fill="#ff0000" shape-rendering="crispEdges"/>
<text transform="translate(665 251.7) scale(1 1.06)" class="w" textLength="27.4" lengthAdjust="spacingAndGlyphs">61.510</text>
<rect x="661" y="271" width="36" height="11" fill="#ff0000" shape-rendering="crispEdges"/>
<text transform="translate(665 279.7) scale(1 1.06)" class="w" textLength="27.4" lengthAdjust="spacingAndGlyphs">60.640</text>
<rect x="661" y="185" width="36" height="11" fill="#000" shape-rendering="crispEdges"/>
<text transform="translate(665 193.7) scale(1 1.06)" class="w" textLength="27.4" lengthAdjust="spacingAndGlyphs">63.310</text>
<text transform="translate(663 319.5) scale(1 1.06)">2.0109</text>
<text transform="translate(663 354) scale(1 1.06)">0.00</text>
<text transform="translate(663 390.5) scale(1 1.06)">-2.165</text>
<text transform="translate(663.2 406.7) scale(1 1.06)">100</text>
<text transform="translate(661.8 417.6) scale(1 1.06)">80</text>
<text transform="translate(661.8 467.7) scale(1 1.06)">20</text>
<text transform="translate(662.6 477.8) scale(1 1.06)">0</text>
<polygon points="4,7 11,7 7.5,11" fill="#000"/>
<text transform="translate(16.7 11.6) scale(1 1.06)" textLength="49.6" lengthAdjust="spacingAndGlyphs">UKBrent,H4</text>
<text transform="translate(72.2 11.6) scale(1 1.06)" textLength="27.6" lengthAdjust="spacingAndGlyphs">63.310</text>
<text transform="translate(103.1 11.6) scale(1 1.06)" textLength="27.6" lengthAdjust="spacingAndGlyphs">63.420</text>
<text transform="translate(134 11.6) scale(1 1.06)" textLength="27.6" lengthAdjust="spacingAndGlyphs">63.300</text>
<text transform="translate(164.9 11.6) scale(1 1.06)" textLength="27.6" lengthAdjust="spacingAndGlyphs">63.310</text>
<text transform="translate(5.6 322) scale(1 1.06)" textLength="59.4" lengthAdjust="spacingAndGlyphs">MACD(5,34,4)</text>
<text transform="translate(69 322) scale(1 1.06)" textLength="30.4" lengthAdjust="spacingAndGlyphs">-1.6322</text>
<text transform="translate(103 322) scale(1 1.06)" textLength="30.4" lengthAdjust="spacingAndGlyphs">-1.8325</text>
<text transform="translate(5.6 409) scale(1 1.06)" textLength="48.8" lengthAdjust="spacingAndGlyphs">Stoch(5,3,3)</text>
<text transform="translate(58 409) scale(1 1.06)" textLength="32.4" lengthAdjust="spacingAndGlyphs">51.1230</text>
<text transform="translate(94 409) scale(1 1.06)" textLength="32.4" lengthAdjust="spacingAndGlyphs">40.7438</text>
<text transform="translate(0.3 493.6) scale(1 1.06)" style="font-size:9.1px">14 Jun 2019</text>
<text transform="translate(64.3 493.6) scale(1 1.06)" style="font-size:9.1px">19 Jun 11:00</text>
<text transform="translate(128.3 493.6) scale(1 1.06)" style="font-size:9.1px">24 Jun 03:00</text>
<text transform="translate(192.3 493.6) scale(1 1.06)" style="font-size:9.1px">26 Jun 19:00</text>
<text transform="translate(256.3 493.6) scale(1 1.06)" style="font-size:9.1px">1 Jul 11:00</text>
<text transform="translate(320.3 493.6) scale(1 1.06)" style="font-size:9.1px">4 Jul 03:00</text>
<text transform="translate(384.3 493.6) scale(1 1.06)" style="font-size:9.1px">8 Jul 23:00</text>
<text transform="translate(448.3 493.6) scale(1 1.06)" style="font-size:9.1px">11 Jul 15:00</text>
<text transform="translate(512.3 493.6) scale(1 1.06)" style="font-size:9.1px">16 Jul 07:00</text>
<text transform="translate(576.3 493.6) scale(1 1.06)" style="font-size:9.1px">18 Jul 23:00</text>
</svg></body></html>
